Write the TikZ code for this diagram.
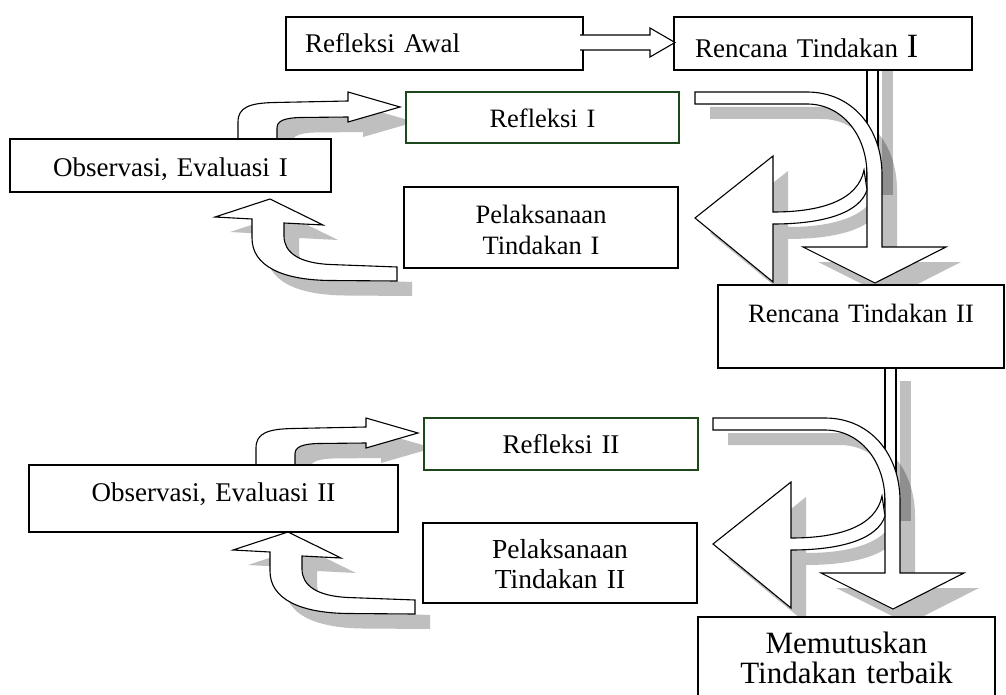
\documentclass[tikz,border=0pt]{standalone}
\usepackage{fontspec}
\setmainfont{Liberation Serif}
\usepackage{tikz}

\definecolor{hijautua}{RGB}{28,72,28}
\definecolor{abuabu}{RGB}{191,191,191}

\tikzset{
  kotak/.style={draw, fill=white, line width=1.4pt, inner sep=0pt, outer sep=0pt,
    anchor=north west, align=center, text height=36pt, font=\fontsize{27}{31}\selectfont},
  kotakhijau/.style={kotak, draw=hijautua},
  panah/.style={draw, fill=white, line width=1.1pt},
  bayangan/.style={fill=abuabu, draw=none, shift={(15,15)}},
  bayangantipis/.style={fill=black, fill opacity=0.25, draw=none, shift={(15,15)}}
}

\newcommand\lurusJalur{(867,40) rectangle (878,180)}
\newcommand\pitaJalur{(695,92) -- (807,92) .. controls (852,92) and (882,128) .. (882,175) -- (882,247) -- (946,247) -- (875,283) -- (803,247) -- (867,247) -- (867,175) .. controls (867,135) and (842,104) .. (807,104) -- (695,104) -- cycle}
\newcommand\kiriJalur{(864,170) .. controls (858,200) and (822,212) .. (773,212) -- (773,156) -- (695,218) -- (773,282) -- (773,224) .. controls (826,224) and (860,212) .. (867,190) -- cycle}
\newcommand\naikJalur{(238,141) -- (238,122) .. controls (238,107) and (250,103) .. (275,102.5) -- (348,101) -- (348,92) -- (400,107) -- (348,122) -- (348,117) -- (300,117.5) .. controls (284,118) and (277,121) .. (277,128) -- (277,141) -- cycle}
\newcommand\balikJalur{(397,267) -- (330,264.5) .. controls (298,263) and (284,252) .. (284,236) -- (284,223) -- (323,225) -- (270,199) -- (215,217) -- (252,219) -- (252,238) .. controls (252,266) and (282,280) .. (330,280.5) -- (397,281) -- cycle}

\begin{document}
\begin{tikzpicture}[x=1pt, y=-1pt]
  \useasboundingbox (0,0) rectangle (1006,695);
  \clip (0,0) rectangle (1006,695);
  \fill[white] (0,0) rectangle (1006,695);

  \foreach \gx/\gy/\gd in {0/0/0,18/326/7}{
    \begin{scope}[shift={(\gx,\gy)}]
      \fill[bayangan] \pitaJalur;
      \fill[bayangan] \kiriJalur;
      \fill[bayangan] \naikJalur;
      \fill[bayangan, shift={(0,\gd)}] \balikJalur;
      \fill[bayangantipis] \lurusJalur;
      \draw[panah] \lurusJalur;
      \draw[panah] \pitaJalur;
      \draw[panah] \kiriJalur;
      \draw[panah] \naikJalur;
      \draw[panah, shift={(0,\gd)}] \balikJalur;
    \end{scope}
  }

  \node[kotak, align=left, inner xsep=19pt, text width=259pt, text depth=17pt] (awal) at (286,17) {Refleksi Awal};
  \node[kotak, align=left, inner xsep=21pt, text width=256pt, text height=41pt, text depth=12pt] (ren1) at (674,17) {Rencana Tindakan {\fontsize{34}{34}\selectfont I}};
  \node[kotakhijau, text width=273pt, text depth=15pt, font=\fontsize{26.5}{31}\selectfont] (ref1) at (406,92) {Refleksi I};
  \node[kotak, text width=321pt, text height=38pt, text depth=15pt] (obs1) at (10,139) {Observasi, Evaluasi I};
  \node[kotak, text width=274pt, text depth=45pt, font=\fontsize{26.5}{31}\selectfont] (pel1) at (404,187) {Pelaksanaan\\Tindakan I};
  \node[kotak, text width=286pt, text height=37pt, text depth=46pt, font=\fontsize{26.5}{31}\selectfont] (ren2) at (718,285) {Rencana Tindakan II};
  \node[kotakhijau, text width=274pt, text height=35pt, text depth=17pt] (ref2) at (424,418) {Refleksi II};
  \node[kotak, text width=369pt, text depth=31pt] (obs2) at (29,465) {Observasi, Evaluasi II};
  \node[kotak, text width=274pt, text height=35pt, text depth=45pt, font=\fontsize{27.5}{30}\selectfont] (pel2) at (423,523) {Pelaksanaan\\Tindakan II};
  \node[kotak, text width=297pt, text depth=77pt, font=\fontsize{31}{30}\selectfont] (mem) at (698,617) {Memutuskan\\Tindakan terbaik};

  \draw[panah] (awal.east) ++(-3,-8.5) -- ++(70,0) -- ++(0,-7) -- ++(25,14.5) -- ++(-25,14.5) -- ++(0,-7) -- ++(-70,0);
\end{tikzpicture}
\end{document}
